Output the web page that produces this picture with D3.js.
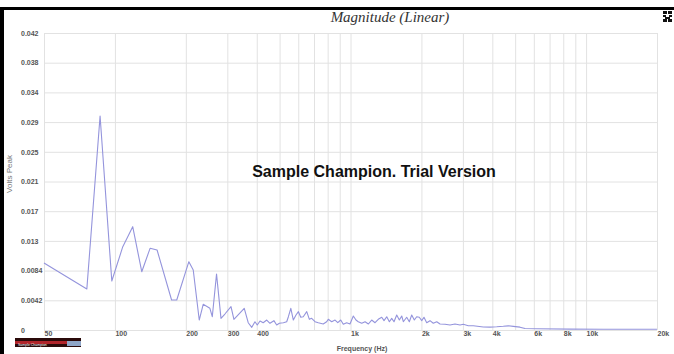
<!DOCTYPE html>
<html>
<head>
  <meta charset='utf-8'>
  <title>Magnitude (Linear)</title>
  <script src='https://cdn.jsdelivr.net/npm/d3@7/dist/d3.min.js'></script>
  <style type='text/css'>
    body { margin: 0; background: #fff; }
    #plot-container { width: 674px; height: 354px; }
    .tick-label { font-family: 'Liberation Sans', Arial, sans-serif; font-size: 7px; font-weight: bold; fill: #555; }
  </style>
</head>
<body>
  <div id='plot-container'></div>
  <script>
    // spectrum: frequency (Hz) and volts peak
    const freqs = [
      50, 76, 86.5, 97, 108, 119, 130, 141, 151, 174, 183, 206, 215, 228, 237, 253, 259, 270, 282, 293,
      311, 320, 354, 368, 381, 393, 402, 413, 426, 441, 455, 473, 486, 499, 519, 536, 545, 558, 572, 587,
      601, 615, 630, 652, 669, 684, 707, 730, 766, 792, 805, 832, 860, 883, 909, 932, 963, 995, 1028, 1055,
      1079, 1116, 1153, 1191, 1230, 1271, 1312, 1357, 1388, 1425, 1462, 1496, 1530, 1571, 1612, 1650, 1676, 1732, 1777, 1819,
      1866, 1910, 1959, 2006, 2051, 2106, 2175, 2246, 2323, 2399, 2519, 2645, 2777, 2917, 3012, 3163, 3322, 3662, 3910, 4175,
      4452, 4676, 4910, 5241, 5506, 6171, 8547, 11831, 20000
    ];
    const volts = [
      0.00947, 0.0058, 0.03026, 0.00693, 0.01178, 0.01461, 0.00824, 0.01155, 0.01131, 0.00424, 0.00424, 0.00966, 0.00848, 0.00141, 0.00363, 0.00307, 0.00188, 0.00792, 0.00165, 0.00226,
      0.0033, 0.00151, 0.00307, 0.00103, 0.00038, 0.00117, 0.00071, 0.00127, 0.00103, 0.00141, 0.00095, 0.00132, 0.00071, 0.00095, 0.00103, 0.00117, 0.00188, 0.00307, 0.00141, 0.00212,
      0.00259, 0.0018, 0.00188, 0.00259, 0.00151, 0.00165, 0.00117, 0.00103, 0.00085, 0.00117, 0.00151, 0.00117, 0.00141, 0.00103, 0.00141, 0.00081, 0.00103, 0.00085, 0.00198, 0.00141,
      0.00117, 0.00095, 0.00117, 0.00085, 0.00141, 0.00103, 0.00151, 0.0018, 0.00132, 0.00188, 0.00117, 0.00165, 0.00117, 0.00212, 0.00141, 0.00198, 0.00117, 0.0018, 0.00117, 0.00212,
      0.00141, 0.00188, 0.0018, 0.00132, 0.0018, 0.00103, 0.00132, 0.00095, 0.00117, 0.00085, 0.00081, 0.00071, 0.00085, 0.00071, 0.00081, 0.00061, 0.00061, 0.00042, 0.0004, 0.00045,
      0.00052, 0.00059, 0.00051, 0.0004, 0.00021, 0.00017, 0.00013, 0.00011, 0.0001
    ];

    // axes
    const yTicks = [0, 0.0042, 0.0084, 0.0126, 0.0168, 0.021, 0.0252, 0.0294, 0.0336, 0.0378, 0.042];
    const yTickLabels = ['0', '0.0042', '0.0084', '0.013', '0.017', '0.021', '0.025', '0.029', '0.034', '0.038', '0.042'];
    const xGrid = [50, 100, 200, 300, 400, 500, 600, 700, 800, 900,
                   1000, 2000, 3000, 4000, 5000, 6000, 7000, 8000, 9000, 10000, 20000];
    const xTicks = [50, 100, 200, 300, 400, 1000, 2000, 3000, 4000, 6000, 8000, 10000, 20000];
    const xTickLabels = ['50', '100', '200', '300', '400', '1k', '2k', '3k', '4k', '6k', '8k', '10k', '20k'];

    const W = 674, H = 354;
    const svg = d3.select('#plot-container').append('svg')
        .attr('width', W).attr('height', H);

    const x = d3.scaleLog().domain([50, 20000]).range([44, 657]);
    const y = d3.scaleLinear().domain([0, 0.042]).range([330, 33]);

    // frame
    svg.append('rect').attr('x', 0).attr('y', 7).attr('width', W).attr('height', 3).attr('fill', '#000');
    svg.append('rect').attr('x', 0).attr('y', 7).attr('width', 4).attr('height', H - 7).attr('fill', '#000');

    // logo at bottom left (drawn under the tick labels)
    const logo = svg.append('g').attr('transform', 'translate(15,338)');
    logo.append('rect').attr('width', 66).attr('height', 9).attr('fill', '#2a0a0a');
    logo.append('rect').attr('y', 3).attr('width', 52).attr('height', 3).attr('fill', '#b0242a');
    logo.append('rect').attr('x', 52).attr('y', 3).attr('width', 14).attr('height', 5).attr('fill', '#8fa6c8');
    logo.append('text').attr('x', 3).attr('y', 7.5)
        .style('font-family', "'Liberation Sans', Arial, sans-serif")
        .style('font-size', '3.5px').style('fill', '#fff')
        .text('Sample Champion');

    // gridlines
    svg.append('g')
        .attr('transform', 'translate(0,330)')
        .call(d3.axisBottom(x).tickValues(xGrid).tickSize(-297).tickFormat(''))
        .call(g => g.select('.domain').remove())
        .call(g => g.selectAll('line').attr('stroke', '#e2e2e2'));
    svg.append('g')
        .attr('transform', 'translate(44,0)')
        .call(d3.axisLeft(y).tickValues(yTicks).tickSize(-613).tickFormat(''))
        .call(g => g.select('.domain').remove())
        .call(g => g.selectAll('line').attr('stroke', '#e2e2e2'));

    // tick labels
    svg.append('g')
        .attr('transform', 'translate(0,330)')
        .call(d3.axisBottom(x).tickValues(xTicks).tickSize(0).tickPadding(1)
            .tickFormat((d, i) => xTickLabels[i]))
        .call(g => g.select('.domain').remove())
        .call(g => g.selectAll('text').attr('class', 'tick-label')
            .attr('text-anchor', 'start').attr('font-size', null).attr('font-family', null));
    svg.append('g')
        .attr('transform', 'translate(21,0)')
        .call(d3.axisLeft(y).tickValues(yTicks).tickSize(0).tickPadding(0)
            .tickFormat((d, i) => yTickLabels[i]))
        .call(g => g.select('.domain').remove())
        .call(g => g.selectAll('text').attr('class', 'tick-label')
            .attr('text-anchor', 'start').attr('font-size', null).attr('font-family', null));

    // spectrum line
    const line = d3.line()
        .x((d, i) => x(freqs[i]))
        .y(d => y(d));
    svg.append('path')
        .datum(volts)
        .attr('d', line)
        .attr('fill', 'none')
        .attr('stroke', '#9494dc')
        .attr('stroke-width', 1.1)
        .attr('stroke-linejoin', 'round');

    // titles
    svg.append('text')
        .attr('x', 390).attr('y', 22)
        .attr('text-anchor', 'middle')
        .style('font-family', "'Liberation Serif', 'Times New Roman', serif")
        .style('font-style', 'italic')
        .style('font-size', '15px')
        .style('fill', '#333')
        .text('Magnitude (Linear)');
    svg.append('text')
        .attr('transform', 'translate(12,174) rotate(-90)')
        .attr('text-anchor', 'middle')
        .style('font-family', "'Liberation Sans', Arial, sans-serif")
        .style('font-size', '8px')
        .style('fill', '#777')
        .text('Volts Peak');
    svg.append('text')
        .attr('x', 362).attr('y', 351)
        .attr('text-anchor', 'middle')
        .attr('class', 'tick-label')
        .text('Frequency (Hz)');

    // watermark
    svg.append('text')
        .attr('x', 374).attr('y', 177)
        .attr('text-anchor', 'middle')
        .style('font-family', "'Liberation Sans', Arial, sans-serif")
        .style('font-weight', 'bold')
        .style('font-size', '16px')
        .style('fill', '#111')
        .text('Sample Champion. Trial Version');

    // small icon at top right
    const icon = svg.append('g').attr('transform', 'translate(663,11)');
    [[0, 0, 4, 3], [5, 0, 4, 3], [0, 4, 3, 2], [6, 4, 3, 2], [2, 6, 5, 2], [0, 8, 4, 3], [5, 8, 4, 3]]
        .forEach(r => icon.append('rect')
            .attr('x', r[0]).attr('y', r[1]).attr('width', r[2]).attr('height', r[3])
            .attr('fill', '#111'));
  </script>
</body>
</html>
